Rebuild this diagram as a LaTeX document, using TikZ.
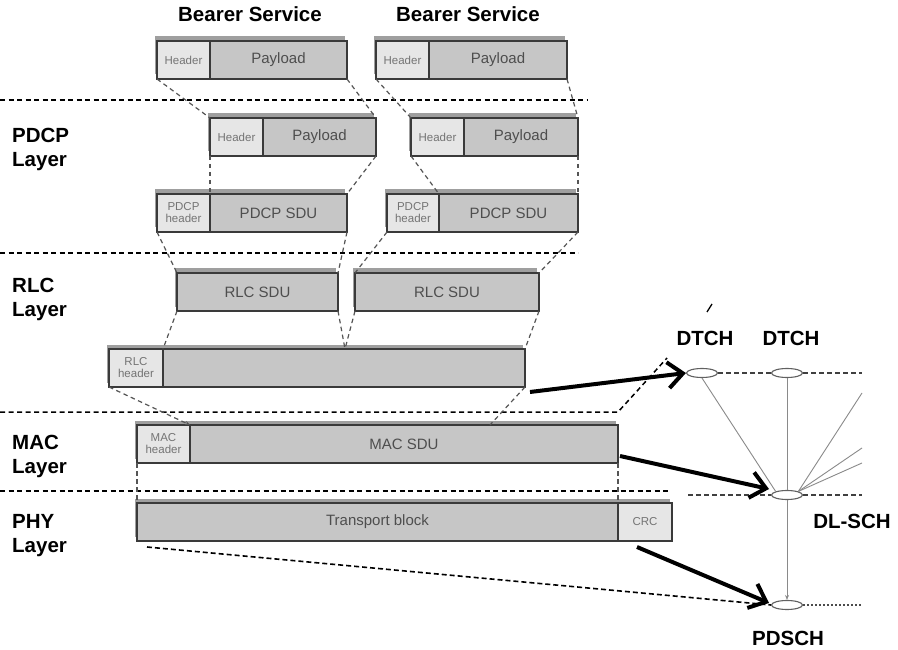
\documentclass[tikz,border=0pt]{standalone}
\usepackage{fontspec}
\setmainfont{Liberation Sans}
\usetikzlibrary{arrows.meta,shadows,shapes.geometric}
\definecolor{payc}{HTML}{C6C6C6}
\definecolor{hdrc}{HTML}{E6E6E6}
\definecolor{edgec}{HTML}{3A3A3A}
\definecolor{txtc}{HTML}{4E4E4E}
\definecolor{htxtc}{HTML}{747474}
\definecolor{mapc}{HTML}{555555}
\definecolor{thinc}{HTML}{8A8A8A}
\newcommand\pblock[7]{%
  \node[#2, minimum width={(#4-#3)*1pt}, minimum height={(#6-#5)*1pt}] (#1) at ({(#3+#4)/2},{(#5+#6)/2}) {#7};}
\begin{document}
\begin{tikzpicture}[x=1pt,y=-1pt,
  blk/.style={draw=edgec, line width=1.4pt, inner sep=0pt, outer sep=0pt,
    drop shadow={shadow xshift=-2.5pt, shadow yshift=4.5pt, fill=gray!75, opacity=1}},
  pay/.style={blk, fill=payc, text=txtc, font=\fontsize{15}{16}\selectfont},
  hdr/.style={blk, fill=hdrc, text=htxtc, font=\fontsize{11.5}{12}\selectfont, align=center},
  lay/.style={anchor=west, inner sep=0pt, align=left, font=\bfseries\fontsize{20.5}{24}\selectfont},
  ttl/.style={inner sep=0pt, font=\bfseries\fontsize{20.5}{24}\selectfont},
  layer/.style={draw=black, line width=1.5pt, dash pattern=on 5pt off 3.5pt},
  mapl/.style={draw=mapc, line width=1.2pt, dash pattern=on 4.5pt off 3.5pt},
  ell/.style={ellipse, draw=edgec!80, fill=white, line width=1.1pt, minimum width=31pt, minimum height=9pt, inner sep=0pt},
  thinl/.style={draw=thinc, line width=0.9pt},
  chl/.style={draw=black!75, line width=1.1pt, dash pattern=on 5pt off 3pt},
  big/.style={draw=black, line width=4pt, -{Straight Barb[length=15pt,width=26pt]}},
  bdash/.style={draw=black, line width=1.6pt, dash pattern=on 5pt off 3pt}
]
\useasboundingbox (0,0) rectangle (898,650);
\fill[white] (0,0) rectangle (898,650);

% titles and layer labels
\node[ttl] (bs1) at (250,14) {Bearer Service};
\node[ttl] (bs2) at (468,14) {Bearer Service};
\node[lay] (lpdcp) at (12,149) {PDCP\\Layer};
\node[lay] (lrlc) at (12,299) {RLC\\Layer};
\node[lay] (lmac) at (12,456) {MAC\\Layer};
\node[lay] (lphy) at (12,536) {PHY\\Layer};

% layer separators
\coordinate (s1a) at (0,100); \coordinate (s1b) at (588,100);
\coordinate (s2a) at (0,253); \coordinate (s2b) at (578,253);
\coordinate (s3a) at (0,412); \coordinate (s3b) at (618,412); \coordinate (s3c) at (667,358);
\coordinate (s4a) at (0,491); \coordinate (s4b) at (668,491);
\draw[layer] (s1a) -- (s1b);
\draw[layer] (s2a) -- (s2b);
\draw[layer] (s3a) -- (s3b) -- (s3c);
\draw[layer] (s4a) -- (s4b);
\coordinate (tk1) at (707,312); \coordinate (tk2) at (712,304);
\draw[black, line width=1.3pt] (tk1) -- (tk2);

% boxes: bearer service
\pblock{bp1}{pay}{210}{347}{41}{79}{Payload}
\pblock{bh1}{hdr}{157}{210}{41}{79}{Header}
\pblock{bp2}{pay}{429}{567}{41}{79}{Payload}
\pblock{bh2}{hdr}{376}{429}{41}{79}{Header}
% PDCP row 1
\pblock{qp1}{pay}{263}{376}{118}{156}{Payload}
\pblock{qh1}{hdr}{210}{263}{118}{156}{Header}
\pblock{qp2}{pay}{464}{578}{118}{156}{Payload}
\pblock{qh2}{hdr}{411}{464}{118}{156}{Header}
% PDCP row 2
\pblock{sp1}{pay}{210}{347}{194}{232}{PDCP SDU}
\pblock{sh1}{hdr}{157}{210}{194}{232}{PDCP\\header}
\pblock{sp2}{pay}{439}{578}{194}{232}{PDCP SDU}
\pblock{sh2}{hdr}{387}{439}{194}{232}{PDCP\\header}
% RLC
\pblock{r1}{pay}{177}{338}{273}{311}{RLC SDU}
\pblock{r2}{pay}{355}{539}{273}{311}{RLC SDU}
\pblock{lp}{pay}{163}{525}{349}{387}{}
\pblock{lh}{hdr}{109}{163}{349}{387}{RLC\\header}
% MAC
\pblock{mp}{pay}{190}{618}{425}{463}{MAC SDU}
\pblock{mh}{hdr}{137}{190}{425}{463}{MAC\\header}
% PHY
\pblock{crc}{hdr}{618}{672}{503}{541}{CRC}
\pblock{tb}{pay}{137}{618}{503}{541}{Transport block}

% mapping lines
\coordinate (jn) at (345,349);
\coordinate (kn) at (490,425);
\draw[mapl] (bh1.south west) -- (qh1.north west);
\draw[mapl] (bp1.south east) -- (qp1.north east);
\draw[mapl] (bh2.south west) -- (qh2.north west);
\draw[mapl] (bp2.south east) -- (qp2.north east);
\draw[mapl] (qh1.south west) -- (sp1.north west);
\draw[mapl] (qp1.south east) -- (sp1.north east);
\draw[mapl] (qh2.south west) -- (sp2.north west);
\draw[mapl] (qp2.south east) -- (sp2.north east);
\draw[mapl] (sh1.south west) -- (r1.north west);
\draw[mapl] (sp1.south east) -- (r1.north east);
\draw[mapl] (sh2.south west) -- (r2.north west);
\draw[mapl] (sp2.south east) -- (r2.north east);
\draw[mapl] (r1.south west) -- (lp.north west);
\draw[mapl] (r1.south east) -- (jn);
\draw[mapl] (r2.south west) -- (jn);
\draw[mapl] (r2.south east) -- (lp.north east);
\draw[mapl, -{Stealth[length=5pt,width=4pt]}] (lh.south west) -- (mp.north west);
\draw[mapl] (lp.south east) -- (kn);
\draw[mapl] (mh.south west) -- (tb.north west);
\draw[mapl] (mp.south east) -- (tb.north east);

% channels
\node[ell] (dt1) at (702,373) {};
\node[ell] (dt2) at (787,373) {};
\node[ell] (dl) at (787,495) {};
\node[ell] (pd) at (787,605) {};
\node[ttl] (ldt1) at (705,338) {DTCH};
\node[ttl] (ldt2) at (791,338) {DTCH};
\node[ttl] (ldl) at (852,521) {DL-SCH};
\node[ttl] (lpd) at (788,638) {PDSCH};

\coordinate (dte) at (862,373);
\coordinate (dlw) at (688,495);
\coordinate (dle) at (862,495);
\coordinate (pde) at (862,605);
\draw[chl] (dt1.east) -- (dt2.west);
\draw[chl] (dt2.east) -- (dte);
\draw[chl] (dlw) -- (dl.west);
\draw[chl] (dl.east) -- (dle);
\draw[draw=black!70, line width=1.1pt, dash pattern=on 2pt off 2pt] (pd.east) -- (pde);

\coordinate (f1) at (862,393);
\coordinate (f2) at (862,448);
\coordinate (f3) at (862,463);
\draw[thinl] (dt1.south) -- (dl.north west);
\draw[thinl] (dt2.south) -- (dl.north);
\draw[thinl] (dl.north east) -- (f1);
\draw[thinl] (dl.north east) -- (f2);
\draw[thinl] (dl.north east) -- (f3);
\draw[thinl, -{Stealth[length=5pt,width=4pt]}] (dl.south) -- (pd.north);

% PHY dashed to PDSCH
\coordinate (tbd) at (147,547);
\draw[bdash] (tbd) -- (pd.west);

% thick arrows
\coordinate (a1s) at (530,392);
\coordinate (a2s) at (620,456);
\coordinate (a2e) at (769,489);
\coordinate (a3s) at (637,547);
\coordinate (a3e) at (769,603);
\draw[big] (a1s) -- (dt1.west);
\draw[big] (a2s) -- (a2e);
\draw[big] (a3s) -- (a3e);
\end{tikzpicture}
\end{document}
